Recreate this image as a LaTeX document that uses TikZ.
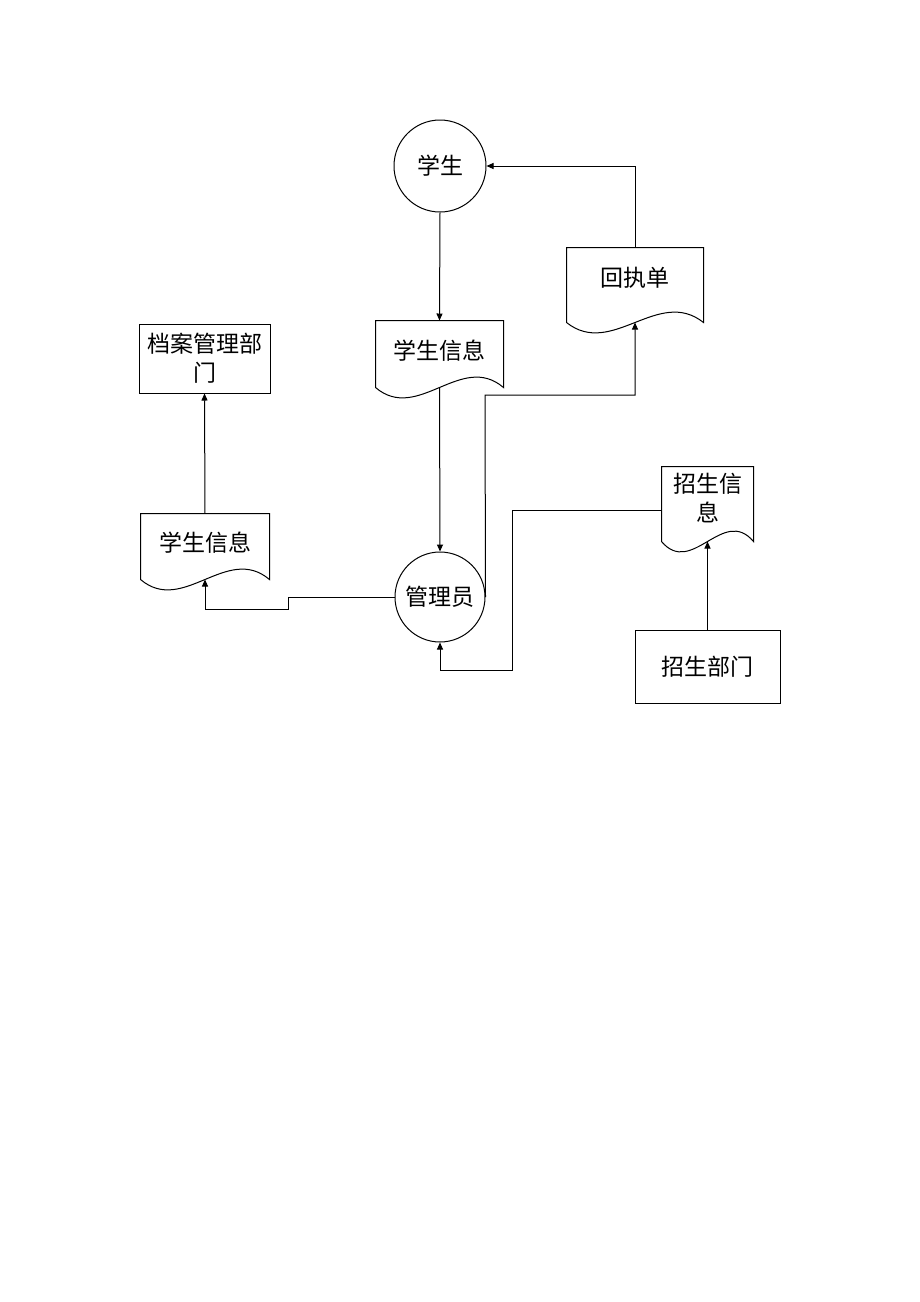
\documentclass[tikz,border=0pt]{standalone}
\usepackage{fontspec}
\newfontfamily\cjk{Noto Sans CJK SC}
\usetikzlibrary{arrows.meta}
\newcommand\docshape[7]{%
  \node[docn, minimum width=#4pt, minimum height=#5pt] (#1) at (#2,#3) {};
  \draw (#1.south east) .. controls +(-#4/3,-36) and +(#4/3,36) .. (#1.south west) -- (#1.north west) -- (#1.north east) -- cycle;
  \node[txt] (#1t) at ([yshift=#6pt]#1.center) {#7};
}
\begin{document}
\begin{tikzpicture}[x=1pt,y=-1pt,line width=1pt,
  proc/.style={circle, draw, minimum size=#1, inner sep=0pt, font=\cjk\fontsize{23}{29}\selectfont},
  box/.style={draw, rectangle, inner sep=0pt, align=center, font=\cjk\fontsize{23}{29}\selectfont},
  docn/.style={rectangle, inner sep=0pt},
  txt/.style={font=\cjk\fontsize{23}{29}\selectfont, align=center, inner sep=0pt},
  arr/.style={-{Triangle[length=7pt,width=6pt]}}]
\useasboundingbox[fill=white] (0,0) rectangle (920,1302);

\node[proc=92pt] (stu) at (440,166) {学生};
\node[proc=90pt] (adm) at (440,597) {管理员};
\docshape{info1}{439.5}{354}{127}{66}{3}{学生信息}
\docshape{hzd}{635}{285}{136}{74}{7}{回执单}
\docshape{info2}{205}{546.5}{128}{65}{4}{学生信息}
\docshape{zsxx}{707.5}{504}{91}{74}{6}{招生信\\息}
\node[box, minimum width=131pt, minimum height=69pt] (dag) at (204.5,358.5) {档案管理部\\门};
\node[box, minimum width=145pt, minimum height=73pt] (zsbm) at (707.5,666.5) {招生部门};

\coordinate (k1) at (485,395);
\coordinate (k2) at (288,597);
\coordinate (k3) at (288,609);
\coordinate (k4) at (512,510);
\coordinate (k5) at (512,670);

\draw[arr] (hzd.north) |- (stu.east);
\draw[arr] (stu.south) -- (info1.north);
\draw[arr] (info1.south) -- (adm.north);
\draw[arr] (adm.east) -- (k1) -| (hzd.south);
\draw[arr] (adm.west) -- (k2) -- (k3) -| (info2.south);
\draw[arr] (info2.north) -- (dag.south);
\draw[arr] (zsbm.north) -- (zsxx.south);
\draw[arr] (zsxx.west |- k4) -- (k4) -- (k5) -| (adm.south);
\end{tikzpicture}
\end{document}
